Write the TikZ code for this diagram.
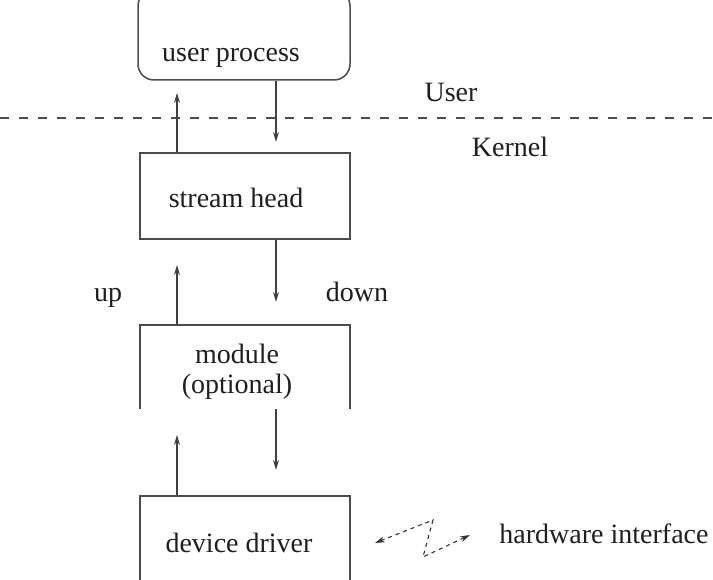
\documentclass[tikz,border=0pt]{standalone}
\usepackage{fontspec}
\setmainfont{Liberation Serif}
\usetikzlibrary{arrows.meta}
\begin{document}
\begin{tikzpicture}[x=1pt,y=-1pt,
  line/.style={draw=black!70, line width=1.5pt},
  boxstyle/.style={line, rectangle, minimum width=210pt, inner sep=0pt},
  lbl/.style={font=\fontsize{28}{30}\selectfont, text=black!88, inner sep=0pt, anchor=base},
  flow/.style={draw=black!75, line width=1.4pt, -{Stealth[length=10pt,width=6pt]}},
  hwlink/.style={draw=black!80, line width=1.1pt, dash pattern=on 4pt off 4pt,
    {Stealth[length=10pt,width=6pt]}-{Stealth[length=10pt,width=6pt]}}]
\clip (0,0) rectangle (713,580);
\fill[white] (0,0) rectangle (713,580);

% boxes (user process and device driver run past the frame)
\node[boxstyle, rounded corners=16pt, minimum width=212pt, minimum height=90pt] (ubox) at (244,35) {};
\node[boxstyle, minimum height=86pt] (head) at (245,196) {};
\node[rectangle, minimum width=210pt, minimum height=84pt, inner sep=0pt] (mod) at (245,367) {};
\draw[line] (mod.south west) -- (mod.north west) -- (mod.north east) -- (mod.south east);
\node[boxstyle, minimum height=104pt] (drv) at (245,548) {};

% box texts
\node[lbl] (tuser) at (231,62) {user process};
\node[lbl] (thead) at (236,208) {stream head};
\node[lbl] (tmod) at (237,363) {module};
\node[lbl] (topt) at (237,393) {(optional)};
\node[lbl] (tdrv) at (239,552) {device driver};

% user / kernel boundary
\coordinate (bl) at (0,118);
\coordinate (br) at (713,118);
\draw[draw=black!70, line width=1.5pt, dash pattern=on 9pt off 10pt] (bl) -- (br);
\node[lbl] (luser) at (451,102) {User};
\node[lbl] (lkern) at (510,157) {Kernel};
\node[lbl] (lup) at (108,302) {up};
\node[lbl] (ldown) at (357,302) {down};

% message flow
\coordinate (t1) at (177,93);
\coordinate (t2) at (276,142);
\coordinate (t3) at (177,265);
\coordinate (t4) at (276,302);
\coordinate (t5) at (177,435);
\coordinate (t6) at (276,470);
\draw[flow] (head.north -| t1) -- (t1);
\draw[flow] (ubox.south -| t2) -- (t2);
\draw[flow] (mod.north -| t3) -- (t3);
\draw[flow] (head.south -| t4) -- (t4);
\draw[flow] (drv.north -| t5) -- (t5);
\draw[flow] (mod.south -| t6) -- (t6);

% hardware interface link
\coordinate (hwL) at (375,543);
\coordinate (hwA) at (433,520);
\coordinate (hwB) at (423,557);
\coordinate (hwR) at (470,535);
\draw[hwlink] (hwL) -- (hwA) -- (hwB) -- (hwR);
\node[lbl] (lhw) at (604,543) {hardware interface};
\end{tikzpicture}
\end{document}
